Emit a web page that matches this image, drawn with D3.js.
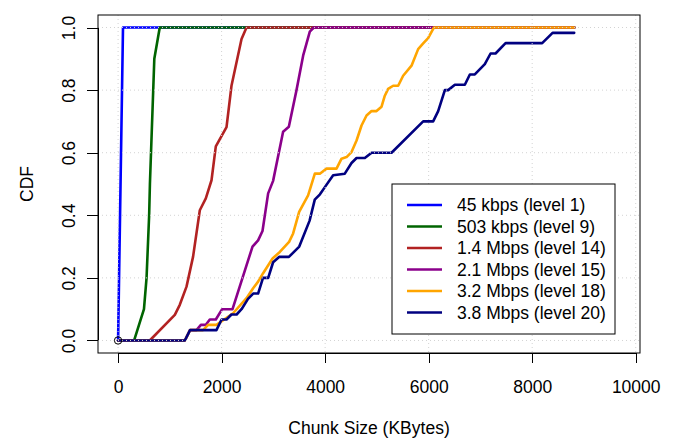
<!DOCTYPE html>
<html>
<head>
<meta charset="utf-8">
<script src="https://cdn.jsdelivr.net/npm/d3@7"></script>
<style>
  body { margin: 0; background: #fff; }
  svg text { font-family: "Liberation Sans", Arial, sans-serif; fill: #000; }
</style>
</head>
<body>
<div id="chart"></div>
<script>
// CDF points per bitrate level: [chunk size in KBytes, cumulative fraction]
var level1 = [[0, 0], [95, 1], [8812, 1]];
var level9 = [[0, 0], [310, 0], [500, 0.1], [550, 0.2], [600, 0.4], [615, 0.5], [700, 0.9], [805, 1], [8812, 1]];
var level14 = [[0, 0], [612, 0], [1096, 0.082], [1192, 0.114], [1322, 0.172], [1449, 0.268], [1579, 0.416],
    [1695, 0.454], [1805, 0.512], [1888, 0.62], [2095, 0.682], [2191, 0.814], [2385, 0.963], [2481, 1], [8812, 1]];
var level15 = [[0, 0], [1290, 0], [1390, 0.033], [1515, 0.033], [1600, 0.05], [1695, 0.05], [1772, 0.067],
    [1888, 0.067], [2010, 0.1], [2211, 0.1], [2597, 0.3], [2705, 0.32], [2790, 0.35], [2899, 0.47], [2995, 0.51],
    [3188, 0.667], [3299, 0.683], [3447, 0.8], [3575, 0.91], [3704, 0.987], [3782, 1], [8812, 1]];
var level18 = [[0, 0], [1290, 0], [1390, 0.033], [1640, 0.033], [1740, 0.05], [1900, 0.05], [2222, 0.087],
    [2481, 0.135], [2609, 0.167], [2705, 0.188], [2802, 0.215], [2984, 0.262], [3125, 0.283], [3304, 0.315],
    [3382, 0.342], [3498, 0.411], [3671, 0.464], [3801, 0.533], [3898, 0.533], [4027, 0.549], [4220, 0.549],
    [4317, 0.581], [4414, 0.586], [4510, 0.602], [4607, 0.639], [4703, 0.687], [4800, 0.719], [4897, 0.733],
    [4993, 0.733], [5090, 0.747], [5153, 0.782], [5217, 0.804], [5314, 0.814], [5411, 0.814], [5507, 0.846],
    [5669, 0.878], [5797, 0.931], [5894, 0.949], [5990, 0.966], [6100, 1], [8812, 1]];
var level20 = [[0, 0], [1290, 0], [1390, 0.033], [1900, 0.033], [2000, 0.067], [2095, 0.067], [2190, 0.083],
    [2290, 0.083], [2385, 0.1], [2510, 0.133], [2610, 0.15], [2705, 0.15], [2800, 0.2], [2900, 0.2], [2995, 0.25],
    [3110, 0.267], [3300, 0.267], [3500, 0.3], [3700, 0.383], [3800, 0.45], [3900, 0.467], [3995, 0.49],
    [4155, 0.528], [4380, 0.533], [4510, 0.567], [4607, 0.583], [4767, 0.583], [4897, 0.6], [5283, 0.6],
    [5894, 0.7], [6087, 0.7], [6184, 0.733], [6313, 0.8], [6377, 0.8], [6506, 0.817], [6699, 0.817],
    [6796, 0.85], [6892, 0.85], [7085, 0.883], [7196, 0.917], [7292, 0.917], [7486, 0.95], [8193, 0.95],
    [8394, 0.983], [8812, 0.983]];

var seriesNames = ["45 kbps (level 1)", "503 kbps (level 9)", "1.4 Mbps (level 14)",
    "2.1 Mbps (level 15)", "3.2 Mbps (level 18)", "3.8 Mbps (level 20)"];
var seriesData = [level1, level9, level14, level15, level18, level20];
var xTicks = [0, 2000, 4000, 6000, 8000, 10000];
var yTicks = [0, 0.2, 0.4, 0.6, 0.8, 1.0];

var colors = ["#0000FF", "#006400", "#B22222", "#8B008B", "#FFA500", "#000080"];

var margin = { top: 15, right: 34, bottom: 88, left: 98 },
    width = 674 - margin.left - margin.right,
    height = 441 - margin.top - margin.bottom;

// R style 4% padding around the data range
var x = d3.scaleLinear().domain([-388, 10083]).range([0, width]);
var y = d3.scaleLinear().domain([-0.04, 1.04]).range([height, 0]);

var svg = d3.select("#chart").append("svg")
    .attr("width", 674)
    .attr("height", 441)
    .append("g")
    .attr("transform", "translate(" + margin.left + "," + margin.top + ")");

var line = d3.line()
    .x(function (d) { return x(d[0]); })
    .y(function (d) { return y(d[1]); });

svg.selectAll(".cdf")
    .data(seriesData)
    .enter().append("path")
    .attr("class", "cdf")
    .attr("d", line)
    .style("fill", "none")
    .style("stroke", function (d, i) { return colors[i]; })
    .style("stroke-width", 2.6)
    .style("stroke-linejoin", "round")
    .style("stroke-linecap", "round");

// grid drawn over the lines, like grid() after plot
var grid = svg.append("g").attr("class", "grid");
grid.selectAll(".gx")
    .data(xTicks)
    .enter().append("line")
    .attr("x1", function (d) { return x(d); })
    .attr("x2", function (d) { return x(d); })
    .attr("y1", 0)
    .attr("y2", height);
grid.selectAll(".gy")
    .data(yTicks)
    .enter().append("line")
    .attr("x1", 0)
    .attr("x2", width)
    .attr("y1", function (d) { return y(d); })
    .attr("y2", function (d) { return y(d); });
grid.selectAll("line")
    .style("stroke", "#D3D3D3")
    .style("stroke-width", 1)
    .style("stroke-dasharray", "1,3");

// first point marker
svg.append("circle")
    .attr("cx", x(seriesData[0][0][0]))
    .attr("cy", y(seriesData[0][0][1]))
    .attr("r", 3.7)
    .style("fill", "none")
    .style("stroke", "#000")
    .style("stroke-width", 1);

// box
svg.append("rect")
    .attr("width", width)
    .attr("height", height)
    .style("fill", "none")
    .style("stroke", "#000")
    .style("stroke-width", 1);

var xAxis = d3.axisBottom(x).tickValues(xTicks).tickSize(10).tickPadding(18).tickFormat(d3.format("d"));
var yAxis = d3.axisLeft(y).tickValues(yTicks).tickSize(11).tickFormat(d3.format(".1f"));

var gx = svg.append("g")
    .attr("class", "x axis")
    .attr("transform", "translate(0," + height + ")")
    .call(xAxis);
gx.select(".domain").attr("d", "M" + x(0) + ",0H" + x(10000));
gx.selectAll(".tick text").style("font-size", "17.5px");

var gy = svg.append("g")
    .attr("class", "y axis")
    .call(yAxis);
gy.select(".domain").attr("d", "M0," + y(0) + "V" + y(1));
gy.selectAll(".tick text")
    .attr("x", null)
    .attr("dy", null)
    .style("font-size", "17.5px")
    .style("text-anchor", "middle")
    .attr("transform", "translate(-23,0) rotate(-90)");

d3.selectAll(".axis path, .axis line")
    .style("fill", "none")
    .style("stroke", "#000")
    .style("shape-rendering", "crispEdges");

svg.append("text")
    .attr("x", width / 2)
    .attr("y", height + 81)
    .style("text-anchor", "middle")
    .style("font-size", "17.5px")
    .text("Chunk Size (KBytes)");

svg.append("text")
    .attr("transform", "translate(-65," + (height / 2) + ") rotate(-90)")
    .style("text-anchor", "middle")
    .style("font-size", "17.5px")
    .text("CDF");

// legend
var legend = svg.append("g").attr("class", "legendbox")
    .attr("transform", "translate(" + (392 - margin.left) + "," + (184 - margin.top) + ")");

legend.append("rect")
    .attr("width", 223)
    .attr("height", 150)
    .style("fill", "#fff")
    .style("stroke", "#000")
    .style("stroke-width", 1);

var item = legend.selectAll(".legend")
    .data(seriesNames)
    .enter().append("g")
    .attr("class", "legend")
    .attr("transform", function (d, i) { return "translate(0," + (21 + i * 21.5) + ")"; });

item.append("line")
    .attr("x1", 15)
    .attr("x2", 50)
    .style("stroke", function (d, i) { return colors[i]; })
    .style("stroke-width", 2.6);

item.append("text")
    .attr("x", 65)
    .attr("dy", "0.35em")
    .style("font-size", "17.5px")
    .text(function (d) { return d; });
</script>
</body>
</html>
